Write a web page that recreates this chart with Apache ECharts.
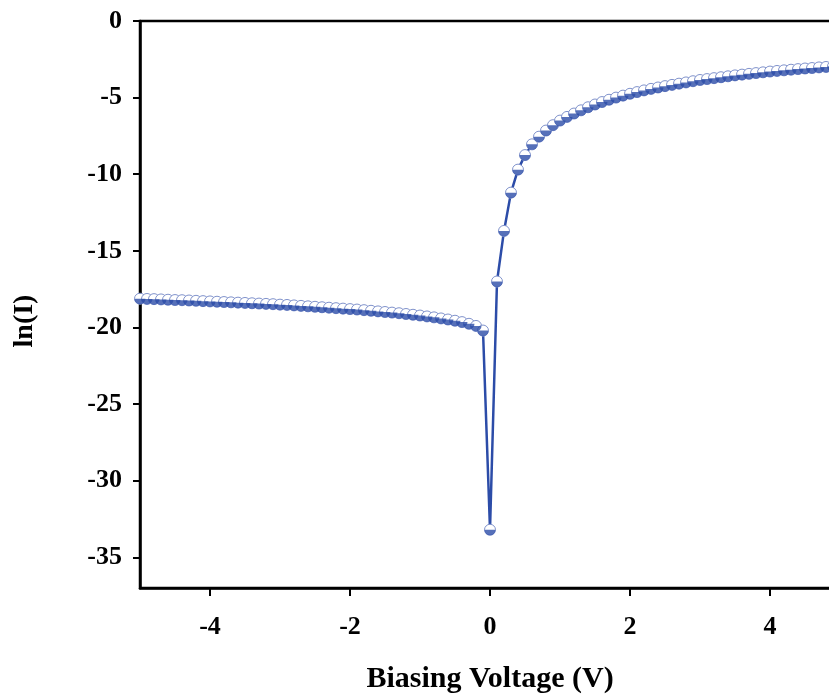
<!DOCTYPE html>
<html>
<head>
<meta charset="utf-8">
<script src="https://cdn.jsdelivr.net/npm/echarts@6/dist/echarts.min.js"></script>
<style>
  html, body { margin: 0; padding: 0; background: #fff; }
  #chart { width: 829px; height: 699px; }
</style>
</head>
<body>
<div id="chart"></div>
<script>
// Biasing voltage sweep (V), 0.1 V steps
const voltage = [
  -5.0, -4.9, -4.8, -4.7, -4.6, -4.5, -4.4, -4.3, -4.2, -4.1,
  -4.0, -3.9, -3.8, -3.7, -3.6, -3.5, -3.4, -3.3, -3.2, -3.1,
  -3.0, -2.9, -2.8, -2.7, -2.6, -2.5, -2.4, -2.3, -2.2, -2.1,
  -2.0, -1.9, -1.8, -1.7, -1.6, -1.5, -1.4, -1.3, -1.2, -1.1,
  -1.0, -0.9, -0.8, -0.7, -0.6, -0.5, -0.4, -0.3, -0.2, -0.1,
  0.0,
  0.1, 0.2, 0.3, 0.4, 0.5, 0.6, 0.7, 0.8, 0.9, 1.0,
  1.1, 1.2, 1.3, 1.4, 1.5, 1.6, 1.7, 1.8, 1.9, 2.0,
  2.1, 2.2, 2.3, 2.4, 2.5, 2.6, 2.7, 2.8, 2.9, 3.0,
  3.1, 3.2, 3.3, 3.4, 3.5, 3.6, 3.7, 3.8, 3.9, 4.0,
  4.1, 4.2, 4.3, 4.4, 4.5, 4.6, 4.7, 4.8, 4.9, 5.0
];

// Measured ln(I) at each voltage
const lnCurrent = [
  -18.12, -18.14, -18.15, -18.17, -18.19, -18.21, -18.22, -18.24, -18.26, -18.28,
  -18.30, -18.32, -18.34, -18.36, -18.38, -18.40, -18.42, -18.44, -18.46, -18.48,
  -18.51, -18.53, -18.56, -18.59, -18.62, -18.65, -18.68, -18.71, -18.74, -18.77,
  -18.80, -18.83, -18.87, -18.91, -18.95, -18.99, -19.03, -19.07, -19.12, -19.17,
  -19.22, -19.28, -19.34, -19.41, -19.48, -19.56, -19.65, -19.76, -19.90, -20.20,
  -33.20,
  -17.00, -13.70, -11.20, -9.70, -8.75, -8.05, -7.55, -7.15, -6.80, -6.50,
  -6.26, -6.04, -5.83, -5.63, -5.45, -5.29, -5.14, -5.00, -4.87, -4.75,
  -4.64, -4.53, -4.43, -4.34, -4.25, -4.17, -4.09, -4.01, -3.93, -3.85,
  -3.79, -3.73, -3.67, -3.61, -3.55, -3.50, -3.45, -3.40, -3.35, -3.30,
  -3.26, -3.22, -3.18, -3.14, -3.10, -3.07, -3.03, -3.00, -2.96, -2.93
];

const xTicks = [-4, -2, 0, 2, 4];
const yTicks = [-35, -30, -25, -20, -15, -10, -5, 0];

const BLUE = '#2c4ca8';
const points = voltage.map((v, i) => [v, lnCurrent[i]]);

const chart = echarts.init(document.getElementById('chart'), null, { renderer: 'canvas' });

const SERIF = '"Liberation Serif", "Times New Roman", serif';
const labelFont = { fontFamily: SERIF, fontWeight: 'bold', fontSize: 26, color: '#000' };

chart.setOption({
  animation: false,
  backgroundColor: '#fff',
  grid: {
    left: 140, top: 21, right: -11, bottom: 111,
    outerBoundsMode: 'none', containLabel: false,
    show: true, borderColor: '#000', borderWidth: 2.5, backgroundColor: 'transparent'
  },
  graphic: [
    {
      type: 'text',
      x: 25, y: 321,
      rotation: Math.PI / 2,
      style: {
        text: 'ln(I)', fill: '#000',
        font: 'bold 28px ' + SERIF,
        align: 'center', verticalAlign: 'middle'
      }
    }
  ],
  xAxis: {
    type: 'value', min: -5, max: 5,
    name: 'Biasing Voltage (V)', nameLocation: 'middle', nameGap: 76,
    nameTextStyle: Object.assign({}, labelFont, { fontSize: 30 }),
    axisLine: { show: true, onZero: false, lineStyle: { color: '#000', width: 2.5 } },
    axisTick: { show: true, inside: false, length: 8, customValues: xTicks, lineStyle: { color: '#000', width: 2 } },
    axisLabel: Object.assign({ margin: 26, customValues: xTicks }, labelFont),
    splitLine: { show: false }
  },
  yAxis: {
    type: 'value', min: -37, max: 0,
    axisLine: { show: true, onZero: false, lineStyle: { color: '#000', width: 2.5 } },
    axisTick: { show: true, inside: false, length: 7, customValues: yTicks, lineStyle: { color: '#000', width: 2 } },
    axisLabel: Object.assign({ margin: 18, customValues: yTicks }, labelFont),
    splitLine: { show: false }
  },
  series: [
    {
      // connecting line with open circular markers
      type: 'line',
      data: points,
      symbol: 'circle',
      symbolSize: 11,
      lineStyle: { color: BLUE, width: 2.5 },
      itemStyle: { color: '#ffffff', borderColor: '#8193cc', borderWidth: 1 },
      z: 2
    },
    {
      // filled lower half of each marker
      type: 'scatter',
      data: points,
      symbol: 'path://M0,0 A1,1 0 0 0 2,0 Z',
      symbolSize: [11, 5.5],
      symbolOffset: [0, 2.75],
      itemStyle: { color: BLUE },
      z: 3
    }
  ]
});
</script>
</body>
</html>
